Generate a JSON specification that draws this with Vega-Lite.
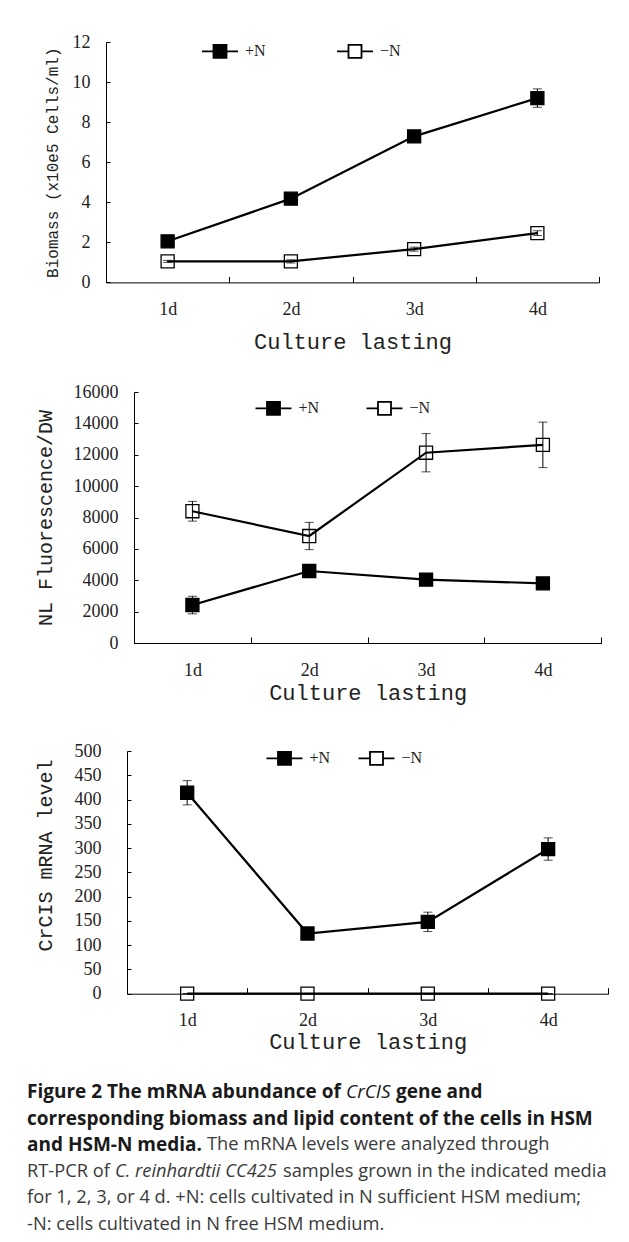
{
  "$schema": "https://vega.github.io/schema/vega-lite/v6.json",
  "background": "white",
  "padding": {"left": 27, "top": 33, "right": 0, "bottom": 0},
  "spacing": 27,
  "config": {
    "view": {"stroke": null},
    "axis": {"domainColor": "black", "domainWidth": 1, "tickColor": "black", "tickWidth": 1, "labelColor": "#222", "titleColor": "#222", "labelFont": "Liberation Serif", "labelFontSize": 18, "titleFont": "Liberation Mono", "titleFontWeight": "normal", "grid": false},
    "legend": {"orient": "none", "direction": "horizontal", "symbolType": "M-2.77,0H-1M1,0H2.77M-1,-1H1V1H-1Z", "symbolSize": 169, "symbolStrokeColor": "black", "symbolStrokeWidth": 1.8, "symbolOpacity": 1, "labelFont": "Liberation Serif", "labelFontSize": 16, "labelColor": "#222", "labelOffset": 17, "padding": 0}
  },
  "resolve": {"scale": {"fill": "independent", "x": "independent", "y": "independent"}, "legend": {"fill": "independent"}},
  "datasets": {
    "biomass": [
      {"day": "1d", "series": "+N", "value": 2.05, "err": 0.1},
      {"day": "2d", "series": "+N", "value": 4.18, "err": 0.1},
      {"day": "3d", "series": "+N", "value": 7.29, "err": 0.1},
      {"day": "4d", "series": "+N", "value": 9.2, "err": 0.46},
      {"day": "1d", "series": "−N", "value": 1.05, "err": 0.05},
      {"day": "2d", "series": "−N", "value": 1.05, "err": 0.08},
      {"day": "3d", "series": "−N", "value": 1.66, "err": 0.1},
      {"day": "4d", "series": "−N", "value": 2.46, "err": 0.12}
    ],
    "nl": [
      {"day": "1d", "series": "+N", "value": 2420, "err": 560},
      {"day": "2d", "series": "+N", "value": 4590, "err": 150},
      {"day": "3d", "series": "+N", "value": 4040, "err": 120},
      {"day": "4d", "series": "+N", "value": 3800, "err": 100},
      {"day": "1d", "series": "−N", "value": 8400, "err": 630},
      {"day": "2d", "series": "−N", "value": 6820, "err": 870},
      {"day": "3d", "series": "−N", "value": 12130, "err": 1220},
      {"day": "4d", "series": "−N", "value": 12630, "err": 1450}
    ],
    "mrna": [
      {"day": "1d", "series": "+N", "value": 414, "err": 25},
      {"day": "2d", "series": "+N", "value": 124, "err": 11},
      {"day": "3d", "series": "+N", "value": 148, "err": 20},
      {"day": "4d", "series": "+N", "value": 298, "err": 23},
      {"day": "1d", "series": "−N", "value": 0, "err": 0},
      {"day": "2d", "series": "−N", "value": 0, "err": 0},
      {"day": "3d", "series": "−N", "value": 0, "err": 0},
      {"day": "4d", "series": "−N", "value": 0, "err": 0}
    ]
  },
  "vconcat": [
    {
      "spacing": 0,
      "hconcat": [
        {"width": 17, "height": 1, "data": {"values": []}, "mark": "point"},
        {
          "width": 493, "height": 240.4,
          "data": {"name": "biomass"},
          "encoding": {
            "x": {"field": "day", "type": "ordinal", "sort": ["1d", "2d", "3d", "4d"], "scale": {"type": "band", "paddingInner": 0, "paddingOuter": 0}, "axis": {"title": ["Culture lasting", " "], "titleLineHeight": 3, "labelAngle": 0, "tickBand": "extent", "tickSize": -6, "labelPadding": 24, "titlePadding": 13, "titleFontSize": 22}},
            "y": {"field": "value", "type": "quantitative", "scale": {"domain": [0, 12], "nice": false}, "axis": {"title": "Biomass (x10e5 Cells/ml)", "values": [0, 2, 4, 6, 8, 10, 12], "tickSize": -4, "labelPadding": 20, "titlePadding": 12, "titleFontSize": 16}}
          },
          "layer": [
            {"mark": {"type": "line", "color": "black", "strokeWidth": 2.2}, "encoding": {"detail": {"field": "series"}}},
            {"mark": {"type": "square", "size": 170, "stroke": "black", "strokeWidth": 1.3, "opacity": 1},
             "encoding": {"fill": {"field": "series", "type": "nominal", "scale": {"domain": ["+N", "−N"], "range": ["black", "transparent"]}, "legend": {"title": null, "legendX": 185, "legendY": 1, "columnPadding": 67}}}},
            {"mark": {"type": "errorbar", "color": "black", "ticks": {"size": 9, "color": "black"}}, "encoding": {"yError": {"field": "err"}}}
          ]
        }
      ]
    },
    {
      "spacing": 0,
      "hconcat": [
        {"width": 8, "height": 1, "data": {"values": []}, "mark": "point"},
        {
          "width": 467.3, "height": 251,
          "data": {"name": "nl"},
          "encoding": {
            "x": {"field": "day", "type": "ordinal", "sort": ["1d", "2d", "3d", "4d"], "scale": {"type": "band", "paddingInner": 0, "paddingOuter": 0}, "axis": {"title": ["Culture lasting", " "], "titleLineHeight": 12, "labelAngle": 0, "tickBand": "extent", "tickSize": -6, "labelPadding": 24, "titlePadding": 3, "titleFontSize": 22}},
            "y": {"field": "value", "type": "quantitative", "scale": {"domain": [0, 16000], "nice": false}, "axis": {"title": "NL Fluorescence/DW", "values": [0, 2000, 4000, 6000, 8000, 10000, 12000, 14000, 16000], "format": "d", "tickSize": -4, "labelPadding": 20, "titlePadding": 18, "titleFontSize": 20}}
          },
          "layer": [
            {"mark": {"type": "line", "color": "black", "strokeWidth": 2.2}, "encoding": {"detail": {"field": "series"}}},
            {"mark": {"type": "square", "size": 170, "stroke": "black", "strokeWidth": 1.3, "opacity": 1},
             "encoding": {"fill": {"field": "series", "type": "nominal", "scale": {"domain": ["+N", "−N"], "range": ["black", "transparent"]}, "legend": {"title": null, "legendX": 238.5, "legendY": 8, "columnPadding": 43}}}},
            {"mark": {"type": "errorbar", "color": "black", "ticks": {"size": 9, "color": "black"}}, "encoding": {"yError": {"field": "err"}}}
          ]
        }
      ]
    },
    {
      "spacing": 0,
      "hconcat": [
        {"width": 8, "height": 1, "data": {"values": []}, "mark": "point"},
        {
          "width": 481.3, "height": 242.7,
          "data": {"name": "mrna"},
          "encoding": {
            "x": {"field": "day", "type": "ordinal", "sort": ["1d", "2d", "3d", "4d"], "scale": {"type": "band", "paddingInner": 0, "paddingOuter": 0}, "axis": {"title": ["Culture lasting", " "], "titleLineHeight": 3, "labelAngle": 0, "tickBand": "extent", "tickSize": -6, "labelPadding": 24, "titlePadding": 1.5, "titleFontSize": 22}},
            "y": {"field": "value", "type": "quantitative", "scale": {"domain": [0, 500], "nice": false}, "axis": {"title": "CrCIS mRNA level", "values": [0, 50, 100, 150, 200, 250, 300, 350, 400, 450, 500], "tickSize": -4, "labelPadding": 30, "titlePadding": 18.5, "titleFontSize": 20, "titleY": 104}}
          },
          "layer": [
            {"mark": {"type": "line", "color": "black", "strokeWidth": 2.2}, "encoding": {"detail": {"field": "series"}}},
            {"mark": {"type": "square", "size": 170, "stroke": "black", "strokeWidth": 1.3, "opacity": 1},
             "encoding": {"fill": {"field": "series", "type": "nominal", "scale": {"domain": ["+N", "−N"], "range": ["black", "transparent"]}, "legend": {"title": null, "legendX": 249.5, "legendY": -1, "columnPadding": 24}}}},
            {"mark": {"type": "errorbar", "color": "black", "ticks": {"size": 9, "color": "black"}}, "encoding": {"yError": {"field": "err"}}}
          ]
        }
      ]
    },
    {
      "width": 600, "height": 132.5,
      "encoding": {
        "y": {"field": "line", "type": "ordinal", "scale": {"type": "point", "padding": 0}, "axis": null},
        "x": {"value": 0},
        "text": {"field": "t"}
      },
      "layer": [
        {"data": {"values": [{"line": 1, "t": "Figure 2 The mRNA abundance of"}, {"line": 2, "t": "corresponding biomass and lipid content of the cells in HSM"}, {"line": 3, "t": "and HSM-N media."}]},
         "mark": {"type": "text", "align": "left", "baseline": "middle", "font": "Open Sans", "fontSize": 19, "fontWeight": "bold", "color": "#1a1a1a"}},
        {"data": {"values": [{"line": 1, "t": "CrCIS"}]},
         "mark": {"type": "text", "align": "left", "baseline": "middle", "font": "Open Sans", "fontSize": 19, "fontStyle": "italic", "color": "#1a1a1a", "dx": 319}},
        {"data": {"values": [{"line": 1, "t": "gene and"}]},
         "mark": {"type": "text", "align": "left", "baseline": "middle", "font": "Open Sans", "fontSize": 19, "fontWeight": "bold", "color": "#1a1a1a", "dx": 369}},
        {"data": {"values": [{"line": 3, "t": "The mRNA levels were analyzed through"}]},
         "mark": {"type": "text", "align": "left", "baseline": "middle", "font": "Open Sans", "fontSize": 18.3, "color": "#3a3a3a", "dx": 180}},
        {"data": {"values": [{"line": 4, "t": "RT-PCR of"}, {"line": 5, "t": "for 1, 2, 3, or 4 d. +N: cells cultivated in N sufficient HSM medium;"}, {"line": 6, "t": "-N: cells cultivated in N free HSM medium."}]},
         "mark": {"type": "text", "align": "left", "baseline": "middle", "font": "Open Sans", "fontSize": 18.3, "color": "#3a3a3a"}},
        {"data": {"values": [{"line": 4, "t": "C. reinhardtii CC425"}]},
         "mark": {"type": "text", "align": "left", "baseline": "middle", "font": "Open Sans", "fontSize": 18.3, "fontStyle": "italic", "color": "#3a3a3a", "dx": 88}},
        {"data": {"values": [{"line": 4, "t": "samples grown in the indicated media"}]},
         "mark": {"type": "text", "align": "left", "baseline": "middle", "font": "Open Sans", "fontSize": 18.3, "color": "#3a3a3a", "dx": 256}}
      ]
    }
  ]
}
